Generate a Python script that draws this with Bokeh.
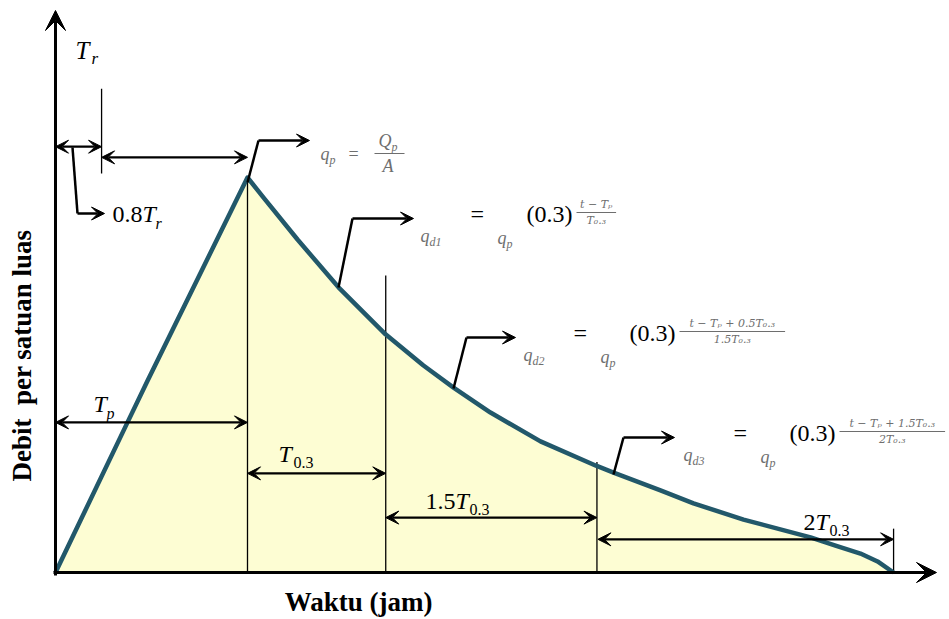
import math

from bokeh.core.properties import value
from bokeh.embed import file_html
from bokeh.models import Arrow, Range1d, VeeHead
from bokeh.plotting import figure
from bokeh.resources import INLINE

# ---- synthetic unit hydrograph (time in hours, discharge relative to q_p) ----
t_rise = [0.0, 0.75, 0.96, 2.0]
q_rise = [0.0, 0.38, 0.486, 1.0]

t_fall = [2.0, 2.167, 2.521, 2.948, 3.438, 3.833, 4.146, 4.531, 5.052, 5.625,
          5.813, 6.302, 6.646, 7.167, 7.865, 8.125, 8.385, 8.563, 8.729]
q_fall = [1.0, 0.949, 0.843, 0.722, 0.603, 0.524, 0.468, 0.405, 0.332, 0.271,
          0.253, 0.208, 0.175, 0.134, 0.089, 0.068, 0.048, 0.028, 0.0]

# segment boundaries on the time axis
t_marks = [0.48, 2.0, 3.44, 5.64, 8.73]      # 0.8Tr, Tp, +T0.3, +1.5T0.3, +2T0.3
mark_bottom = [1.01, 0.0, 0.0, 0.0, 0.0]
mark_top = [1.225, 1.0, 0.752, 0.28, 0.111]

# dimension lines: (start, end, level)
dim_start = [0.0, 0.48, 0.0, 2.0, 3.44, 5.65]
dim_end = [0.48, 2.0, 2.0, 3.44, 5.64, 8.73]
dim_level = [1.078, 1.051, 0.38, 0.251, 0.139, 0.084]

W, H = 949, 619
X0, Y0 = 55, 572          # page position of the origin
PX_H, PX_Q = 96.0, 395.0  # pixels per hour / per unit discharge


def sx(px):
    return (px - X0) / PX_H


def sy(py):
    return (Y0 - py) / PX_Q


p = figure(width=W, height=H, output_backend="svg", toolbar_location=None,
           x_range=Range1d(sx(0), sx(W)), y_range=Range1d(sy(H), sy(0)),
           min_border=0, x_axis_location=None, y_axis_location=None)
p.grid.visible = False
p.outline_line_color = None
p.background_fill_color = "white"
p.border_fill_color = "white"

CURVE = "#22586A"
FILL = "#FDFDD3"
SERIF = value("Liberation Serif")

t_all = t_rise + t_fall[1:]
q_all = q_rise + q_fall[1:]

p.varea(x=t_all, y1=[0] * len(t_all), y2=q_all, fill_color=FILL)

p.segment(x0=t_marks, y0=mark_bottom, x1=t_marks, y1=mark_top,
          line_color="black", line_width=1.3)

p.line(t_all, q_all, line_color=CURVE, line_width=4.5, line_join="round")


def head(size=13):
    return VeeHead(size=size, line_color="black", fill_color="black", line_width=1)


for a, b, lv in zip(dim_start, dim_end, dim_level):
    p.add_layout(Arrow(start=head(), end=head(), x_start=a, y_start=lv,
                       x_end=b, y_end=lv, line_color="black", line_width=2.3))

# axes drawn as arrows
p.add_layout(Arrow(end=head(20), x_start=0, y_start=sy(575), x_end=0, y_end=sy(10),
                   line_color="black", line_width=3))
p.add_layout(Arrow(end=head(20), x_start=sx(53), y_start=0, x_end=sx(936), y_end=0,
                   line_color="black", line_width=3))

# leader lines pointing at the formulas
leaders = [
    [(72, 147), (77, 213), (104, 213)],
    [(247, 182), (258, 140), (309, 140)],
    [(338, 287), (352, 218), (413, 218)],
    [(453, 388), (466, 337), (515, 337)],
    [(613, 474), (623, 437), (674, 437)],
]
for pts in leaders:
    xs = [sx(a) for a, _ in pts]
    ys = [sy(b) for _, b in pts]
    p.line(xs[:2], ys[:2], line_color="black", line_width=2.5)
    p.add_layout(Arrow(end=head(), x_start=xs[1], y_start=ys[1], x_end=xs[2], y_end=ys[2],
                       line_color="black", line_width=2.5))


def txt(px, py, s, size, style="normal", color="black", align="left",
        angle=0.0, font=SERIF, centred=False):
    # py is the baseline unless centred is set
    yc = py if centred else py - 0.34 * size
    p.text(x=[sx(px)], y=[sy(yc)], text=[s], text_font=font,
           text_font_size=f"{size}px", text_font_style=style, text_color=color,
           text_align=align, text_baseline="middle", angle=angle)


# time labels
txt(75, 58, "T", 25, "italic")
txt(91, 64, "r", 17, "italic")

txt(112, 222, "0.8", 24)
txt(142, 222, "T", 24, "italic")
txt(155, 228, "r", 16, "italic")

txt(93, 412, "T", 24, "italic")
txt(106, 418, "p", 16, "italic")

txt(278, 462, "T", 24, "italic")
txt(293, 467, "0.3", 16)

txt(425, 509, "1.5", 24)
txt(455, 509, "T", 24, "italic")
txt(469, 514, "0.3", 16)

txt(803, 530, "2", 24)
txt(815, 530, "T", 24, "italic")
txt(829, 535, "0.3", 16)

# axis titles
txt(358, 611, "Waktu (jam)", 27, "bold", align="center")
txt(21, 355, "Debit \u00a0per satuan luas", 27, "bold", align="center",
    angle=math.pi / 2, centred=True)

# formulas
GREY = "#6E6E6E"
txt(320, 160, "q", 18, "italic", GREY)
txt(329, 164, "p", 12, "italic", GREY)
txt(348, 160, "=", 18, color=GREY)
txt(378, 147, "Q", 18, "italic", GREY)
txt(391, 151, "p", 12, "italic", GREY)
p.line([sx(374), sx(404)], [sy(153), sy(153)], line_color=GREY, line_width=1.2)
txt(382, 172, "A", 18, "italic", GREY)

formulas = [
    (420, 218, "d1", "t − T\u209a", "T\u2080.\u2083"),
    (523, 337, "d2", "t − T\u209a + 0.5T\u2080.\u2083", "1.5T\u2080.\u2083"),
    (683, 437, "d3", "t − T\u209a + 1.5T\u2080.\u2083", "2T\u2080.\u2083"),
]
for fx, fy, sub, num, den in formulas:
    txt(fx, fy + 24, "q", 18, "italic", GREY)
    txt(fx + 9, fy + 28, sub, 12, "italic", GREY)
    txt(fx + 50, fy + 4, "=", 24)
    txt(fx + 77, fy + 26, "q", 18, "italic", GREY)
    txt(fx + 86, fy + 30, "p", 12, "italic", GREY)
    txt(fx + 106, fy + 4, "(0.3)", 24)
    nw = 6.6 * len(num)
    cx = fx + 156 + nw / 2
    txt(cx, fy - 10, num, 11, "italic", GREY, align="center", font=value("DejaVu Serif"))
    p.line([sx(fx + 156), sx(fx + 156 + nw)], [sy(fy - 6), sy(fy - 6)],
           line_color=GREY, line_width=1)
    txt(cx, fy + 6, den, 11, "italic", GREY, align="center", font=value("DejaVu Serif"))

open("out.html", "w").write(file_html(p, INLINE))
